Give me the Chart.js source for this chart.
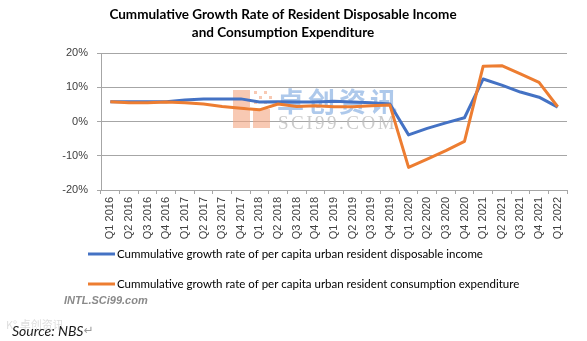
<!DOCTYPE html>
<html>
<head>
<meta charset="utf-8">
<script src="https://cdn.jsdelivr.net/npm/chart.js@4.4.1/dist/chart.umd.min.js"></script>
<style>
  html, body { margin: 0; padding: 0; background: #ffffff; }
  #wrap { position: relative; width: 587px; height: 341px; }
</style>
</head>
<body>
<div id="wrap"><canvas id="c" width="587" height="341"></canvas></div>
<script>
// Quarterly categories (cumulative year-to-date)
const quarters = [
  "Q1 2016","Q2 2016","Q3 2016","Q4 2016",
  "Q1 2017","Q2 2017","Q3 2017","Q4 2017",
  "Q1 2018","Q2 2018","Q3 2018","Q4 2018",
  "Q1 2019","Q2 2019","Q3 2019","Q4 2019",
  "Q1 2020","Q2 2020","Q3 2020","Q4 2020",
  "Q1 2021","Q2 2021","Q3 2021","Q4 2021",
  "Q1 2022"
];

// Cumulative growth rate of per capita urban resident disposable income (%)
const incomeGrowth = [
  5.8, 5.8, 5.8, 5.8,
  6.3, 6.6, 6.6, 6.6,
  5.7, 5.8, 5.7, 5.7,
  5.9, 5.7, 5.5, 5.1,
  -3.9, -2.0, -0.4, 1.1,
  12.4, 10.6, 8.6, 7.1,
  4.2
];

// Cumulative growth rate of per capita urban resident consumption expenditure (%)
const consumptionGrowth = [
  5.8, 5.5, 5.5, 5.7,
  5.5, 5.1, 4.4, 3.9,
  3.4, 5.1, 4.4, 4.6,
  4.3, 4.3, 4.6, 4.8,
  -13.4, -11.0, -8.5, -5.8,
  16.1, 16.3, 13.9, 11.4,
  4.3
];

const yTicks = [-20, -10, 0, 10, 20];

const seriesNames = [
  "Cummulative growth rate of per capita urban resident disposable income",
  "Cummulative growth rate of per capita urban resident consumption expenditure"
];

const titleLines = [
  "Cummulative Growth Rate of Resident Disposable Income",
  "and Consumption Expenditure"
];

const BLUE = "#4472C4";
const ORANGE = "#ED7D31";

// Faint brand mark behind the plotted lines
const brandMark = {
  id: "brandMark",
  beforeDatasetsDraw(chart) {
    const ctx = chart.ctx;
    ctx.save();
    ctx.fillStyle = "rgba(244, 165, 128, 0.6)";
    ctx.fillRect(233, 90, 17, 17);
    ctx.fillRect(233, 109, 17, 19);
    ctx.fillRect(253, 109, 17, 19);
    for (let r = 0; r < 3; r++) {
      for (let c = 0; c < 4; c++) {
        if ((r + c) % 2 === 0) ctx.fillRect(254 + c * 5, 91 + r * 5, 3, 3);
      }
    }
    ctx.fillStyle = "rgba(140, 178, 226, 0.7)";
    ctx.font = "bold 27px 'Noto Sans CJK SC'";
    ctx.textBaseline = "middle";
    ctx.letterSpacing = "4px";
    ctx.fillText("卓创资讯", 277, 102);
    ctx.fillStyle = "rgba(185, 185, 185, 0.75)";
    ctx.font = "19px 'Liberation Serif'";
    ctx.letterSpacing = "2.5px";
    ctx.fillText("SCI99.COM", 278, 124);
    ctx.restore();
  }
};

// Title, legend and footnotes
const annotations = {
  id: "annotations",
  afterDraw(chart) {
    const ctx = chart.ctx;
    ctx.save();
    ctx.fillStyle = "#000000";
    ctx.textAlign = "center";
    ctx.textBaseline = "middle";
    ctx.font = "bold 13.5px Lato";
    ctx.fillText(titleLines[0], 283, 15);
    ctx.fillText(titleLines[1], 283, 33);

    // legend rows
    const rows = [254, 284];
    chart.data.datasets.forEach((ds, i) => {
      const y = rows[i];
      ctx.strokeStyle = ds.borderColor;
      ctx.lineWidth = 3;
      ctx.beginPath();
      ctx.moveTo(88, y);
      ctx.lineTo(115, y);
      ctx.stroke();
      ctx.fillStyle = "#000000";
      ctx.textAlign = "left";
      ctx.font = "11.5px Lato";
      ctx.fillText(ds.label, 117, y);
    });

    ctx.fillStyle = "#8a8a8a";
    ctx.font = "italic bold 11px 'Liberation Sans'";
    ctx.fillText("INTL.SCi99.com", 64, 301);

    ctx.fillStyle = "rgba(200, 200, 200, 0.6)";
    ctx.font = "11px 'Noto Sans CJK SC'";
    ctx.fillText("K\u00B0 卓创资讯", 6, 325);

    ctx.fillStyle = "#1a1a1a";
    ctx.font = "italic 14px Lato";
    ctx.fillText("Source: NBS", 12, 331);
    const w = ctx.measureText("Source: NBS").width;
    ctx.fillStyle = "#9a9a9a";
    ctx.font = "12px 'DejaVu Sans'";
    ctx.fillText("\u21B5", 12 + w, 331);
    ctx.restore();
  }
};

new Chart(document.getElementById("c"), {
  type: "line",
  data: {
    labels: quarters,
    datasets: [
      {
        label: seriesNames[0],
        data: incomeGrowth,
        borderColor: BLUE,
        backgroundColor: BLUE,
        borderWidth: 3,
        pointRadius: 0,
        tension: 0,
        borderJoinStyle: "round",
        order: 1
      },
      {
        label: seriesNames[1],
        data: consumptionGrowth,
        borderColor: ORANGE,
        backgroundColor: ORANGE,
        borderWidth: 3,
        pointRadius: 0,
        tension: 0,
        borderJoinStyle: "round",
        order: 0
      }
    ]
  },
  options: {
    responsive: false,
    animation: false,
    devicePixelRatio: 1,
    layout: { padding: { left: 0, top: 53, right: 20, bottom: 91 } },
    plugins: {
      legend: { display: false },
      title: { display: false },
      tooltip: { enabled: false }
    },
    scales: {
      x: {
        offset: true,
        afterFit(scale) { scale.height = 60; },
        grid: {
          offset: true,
          drawOnChartArea: false,
          drawTicks: true,
          tickLength: 4,
          color: "#a6a6a6"
        },
        border: { color: "#a6a6a6", width: 1 },
        ticks: {
          autoSkip: false,
          maxRotation: 90,
          minRotation: 90,
          padding: 3,
          color: "#404040",
          font: { family: "'Liberation Sans'", size: 11 }
        }
      },
      y: {
        min: yTicks[0],
        max: yTicks[yTicks.length - 1],
        afterFit(scale) { scale.width = 101; },
        afterBuildTicks(scale) { scale.ticks = yTicks.map(v => ({ value: v })); },
        grid: {
          color: "#a6a6a6",
          tickLength: 4,
          drawTicks: true
        },
        border: { color: "#a6a6a6", width: 1 },
        ticks: {
          padding: 9,
          color: "#404040",
          font: { family: "'Liberation Sans'", size: 11 },
          callback: v => v + "%"
        }
      }
    }
  },
  plugins: [brandMark, annotations]
});
</script>
</body>
</html>
